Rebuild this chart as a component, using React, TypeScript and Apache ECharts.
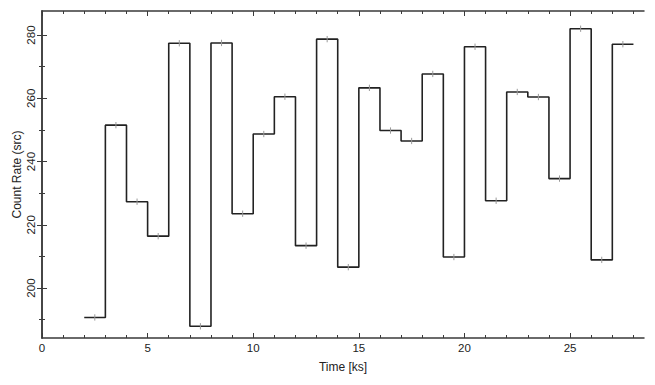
import React, { useEffect, useRef } from "react";
import * as echarts from "echarts";

// Light curve: 1 ks bins starting at binStarts (ks)
const binStarts = [2, 3, 4, 5, 6, 7, 8, 9, 10, 11, 12, 13, 14, 15, 16, 17, 18, 19, 20, 21, 22, 23, 24, 25, 26, 27];
const binWidth = 1;
const rates = [
  190.7, 251.5, 227.3, 216.4, 277.4, 187.9, 277.5, 223.5, 248.7, 260.5, 213.4, 278.7, 206.6,
  263.3, 249.8, 246.5, 267.7, 209.8, 276.3, 227.6, 262.0, 260.4, 234.6, 282.0, 208.9, 277.1,
];
const rateErrors = [
  1.0, 1.0, 1.0, 1.0, 1.0, 1.0, 1.0, 1.0, 1.0, 1.0, 1.0, 1.0, 1.0,
  1.0, 1.0, 1.0, 1.0, 1.0, 1.0, 1.0, 1.0, 1.0, 1.0, 1.0, 1.0, 1.0,
];

const xMajor = [0, 5, 10, 15, 20, 25];
const xMinor = [1, 2, 3, 4, 6, 7, 8, 9, 11, 12, 13, 14, 16, 17, 18, 19, 21, 22, 23, 24, 26, 27, 28];
const yMajor = [200, 220, 240, 260, 280];
const yMinor = [190, 210, 230, 250, 270];

const X_MIN = 0;
const X_MAX = 28.5;
const Y_MIN = 184.2;
const Y_MAX = 287.6;

const FONT = "'Liberation Sans', Arial, Helvetica, sans-serif";
const AXIS_COLOR = "#3a3a3a";

export default function App() {
  const ref = useRef<HTMLDivElement>(null);

  useEffect(() => {
    if (!ref.current) return;
    const chart = echarts.init(ref.current, undefined, { renderer: "svg" });

    const stepData: number[][] = binStarts.map((s, i) => [s, rates[i]]);
    const last = binStarts.length - 1;
    stepData.push([binStarts[last] + binWidth, rates[last]]);

    const errData = binStarts.map((s, i) => [s + binWidth / 2, rates[i], rateErrors[i]]);

    const xBase = (pos: "bottom" | "top", major: boolean, labels: boolean, name?: string) => ({
      type: "value",
      position: pos,
      min: X_MIN,
      max: X_MAX,
      name: name,
      nameLocation: "middle",
      nameGap: 23,
      nameMoveOverlap: false,
      nameTextStyle: { fontFamily: FONT, fontSize: 12, color: "#222" },
      axisLine: { show: major, lineStyle: { color: AXIS_COLOR, width: 1.5 } },
      axisTick: {
        show: true,
        inside: true,
        length: major ? 5 : 3,
        customValues: major ? xMajor : xMinor,
        lineStyle: { color: AXIS_COLOR, width: 1 },
      },
      axisLabel: {
        show: labels,
        customValues: xMajor,
        margin: 4,
        fontFamily: FONT,
        fontSize: 11.5,
        color: "#222",
      },
      splitLine: { show: false },
    });

    const yBase = (pos: "left" | "right", major: boolean, labels: boolean, name?: string) => ({
      type: "value",
      position: pos,
      min: Y_MIN,
      max: Y_MAX,
      name: name,
      nameLocation: "middle",
      nameGap: 19,
      nameMoveOverlap: false,
      nameTextStyle: { fontFamily: FONT, fontSize: 12, color: "#222" },
      axisLine: { show: major, lineStyle: { color: AXIS_COLOR, width: 1.5 } },
      axisTick: {
        show: true,
        inside: true,
        length: major ? 5 : 3,
        customValues: major ? yMajor : yMinor,
        lineStyle: { color: AXIS_COLOR, width: 1 },
      },
      axisLabel: {
        show: labels,
        customValues: yMajor,
        rotate: 90,
        margin: 5,
        fontFamily: FONT,
        fontSize: 11.5,
        color: "#222",
      },
      splitLine: { show: false },
    });

    chart.setOption({
      animation: false,
      backgroundColor: "#ffffff",
      grid: { left: 42, right: 11, top: 11, bottom: 47, containLabel: false, outerBoundsMode: "none" },
      xAxis: [
        xBase("bottom", true, true, "Time [ks]"),
        xBase("bottom", false, false),
        xBase("top", true, false),
        xBase("top", false, false),
      ],
      yAxis: [
        yBase("left", true, true, "Count Rate (src)"),
        yBase("left", false, false),
        yBase("right", true, false),
        yBase("right", false, false),
      ],
      series: [
        {
          type: "line",
          xAxisIndex: 0,
          yAxisIndex: 0,
          data: stepData,
          step: "end",
          showSymbol: false,
          symbol: "none",
          lineStyle: { color: "#222222", width: 1.6 },
          z: 2,
        },
        {
          type: "custom",
          xAxisIndex: 0,
          yAxisIndex: 0,
          data: errData,
          z: 3,
          renderItem: (_params: any, api: any) => {
            const x = api.value(0);
            const v = api.value(1);
            const e = api.value(2);
            const p1 = api.coord([x, v - e]);
            const p2 = api.coord([x, v + e]);
            return {
              type: "line",
              shape: { x1: p1[0], y1: p1[1], x2: p2[0], y2: p2[1] },
              style: { stroke: "#9a9a9a", lineWidth: 1 },
            };
          },
        },
      ],
    });

    return () => chart.dispose();
  }, []);

  return <div ref={ref} style={{ width: 655, height: 385, position: "absolute", left: 0, top: 0 }} />;
}
